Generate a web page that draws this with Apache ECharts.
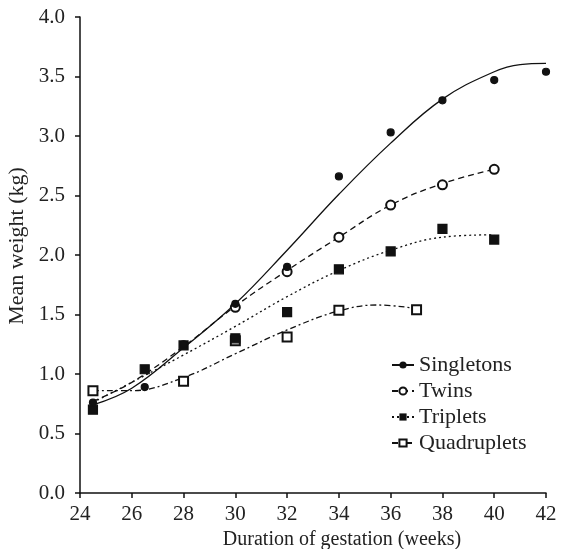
<!DOCTYPE html>
<html>
<head>
<meta charset="utf-8">
<script src="https://cdn.jsdelivr.net/npm/echarts@6/dist/echarts.min.js"></script>
<style>
  html, body { margin: 0; padding: 0; background: #fff; }
  #chart { width: 561px; height: 549px; }
</style>
</head>
<body>
<div id="chart"></div>
<script>
// observed means (weeks, kg)
var singletonsPts = [[24.5, 0.76], [26.5, 0.89], [28, 1.25], [30, 1.59], [32, 1.90], [34, 2.66], [36, 3.03], [38, 3.30], [40, 3.47], [42, 3.54]];
var twinsPts = [[30, 1.56], [32, 1.86], [34, 2.15], [36, 2.42], [38, 2.59], [40, 2.72]];
var tripletsPts = [[24.5, 0.70], [26.5, 1.04], [28, 1.24], [30, 1.30], [32, 1.52], [34, 1.88], [36, 2.03], [38, 2.22], [40, 2.13]];
var quadsPts = [[24.5, 0.86], [28, 0.94], [30, 1.28], [32, 1.31], [34, 1.535], [37, 1.54]];

// fitted curves
var singletonsFit = [[24.5, 0.74], [26, 0.88], [28, 1.22], [30, 1.59], [32, 2.04], [34, 2.51], [36, 2.94], [38, 3.31], [40, 3.54], [41, 3.60], [42, 3.61]];
var twinsFit = [[24.5, 0.77], [26, 0.93], [28, 1.23], [30, 1.57], [32, 1.87], [34, 2.15], [36, 2.42], [38, 2.60], [40, 2.72]];
var tripletsFit = [[24.5, 0.76], [26, 0.93], [28, 1.16], [30, 1.40], [32, 1.65], [34, 1.87], [36, 2.04], [38, 2.15], [40, 2.17]];
var quadsFit = [[24.5, 0.86], [26, 0.86], [28, 0.97], [30, 1.17], [32, 1.37], [34, 1.53], [35.5, 1.58], [37, 1.55]];

var groupNames = ['Singletons', 'Twins', 'Triplets', 'Quadruplets'];

var font = 'Liberation Serif';
var chart = echarts.init(document.getElementById('chart'));

function fitSeries(name, data, symbol, dash) {
    return {
        name: name,
        type: 'line',
        data: data,
        smooth: 0.4,
        symbol: symbol,
        showSymbol: false,
        silent: true,
        lineStyle: { color: '#111', width: 1.3, type: dash },
        itemStyle: { color: '#111', borderColor: '#111' },
        z: 2
    };
}

function pointSeries(name, data, symbol, size) {
    return {
        name: name + ' obs',
        type: 'scatter',
        data: data,
        symbol: symbol,
        symbolSize: size,
        itemStyle: { color: '#111', borderColor: '#111', borderWidth: 1.2, opacity: 1 },
        z: 3
    };
}

var option = {
    animation: false,
    backgroundColor: '#fff',
    textStyle: { fontFamily: font },
    grid: { left: 80, right: 15, top: 17, bottom: 56, containLabel: false, outerBoundsMode: 'none' },
    legend: {
        data: groupNames,
        orient: 'vertical',
        left: 386,
        top: 349,
        itemWidth: 22,
        itemHeight: 9,
        itemGap: 4,
        textStyle: { fontFamily: font, fontSize: 22, color: '#222', lineHeight: 22 }
    },
    xAxis: {
        type: 'value',
        min: 24,
        max: 42,
        interval: 2,
        name: 'Duration of gestation (weeks)',
        nameLocation: 'middle',
        nameGap: 29,
        nameTextStyle: { fontFamily: font, fontSize: 20, color: '#222', padding: [0, 0, 0, 58] },
        axisLine: { lineStyle: { color: '#111', width: 1.5 } },
        axisTick: { length: 5, lineStyle: { color: '#111', width: 1.5 } },
        axisLabel: { fontFamily: font, fontSize: 21, color: '#222', margin: 11 },
        splitLine: { show: false }
    },
    yAxis: {
        type: 'value',
        min: 0,
        max: 4,
        interval: 0.5,
        name: 'Mean weight (kg)',
        nameLocation: 'middle',
        nameGap: 43,
        nameTextStyle: { fontFamily: font, fontSize: 22, color: '#222', padding: [0, 0, 0, 18] },
        axisLine: { show: true, lineStyle: { color: '#111', width: 1.5 } },
        axisTick: { show: true, length: 5, lineStyle: { color: '#111', width: 1.5 } },
        axisLabel: {
            fontFamily: font, fontSize: 21, color: '#222', margin: 15,
            formatter: function (v) { return v.toFixed(1); }
        },
        splitLine: { show: false }
    },
    series: [
        fitSeries('Singletons', singletonsFit, 'circle', 'solid'),
        fitSeries('Twins', twinsFit, 'emptyCircle', [6, 4]),
        fitSeries('Triplets', tripletsFit, 'rect', [2, 3]),
        fitSeries('Quadruplets', quadsFit, 'emptyRect', [6, 3, 2, 3]),
        pointSeries('Quadruplets', quadsPts, 'emptyRect', 9),
        pointSeries('Triplets', tripletsPts, 'rect', 9),
        pointSeries('Twins', twinsPts, 'emptyCircle', 9),
        pointSeries('Singletons', singletonsPts, 'circle', 7)
    ]
};

chart.setOption(option);
</script>
</body>
</html>
